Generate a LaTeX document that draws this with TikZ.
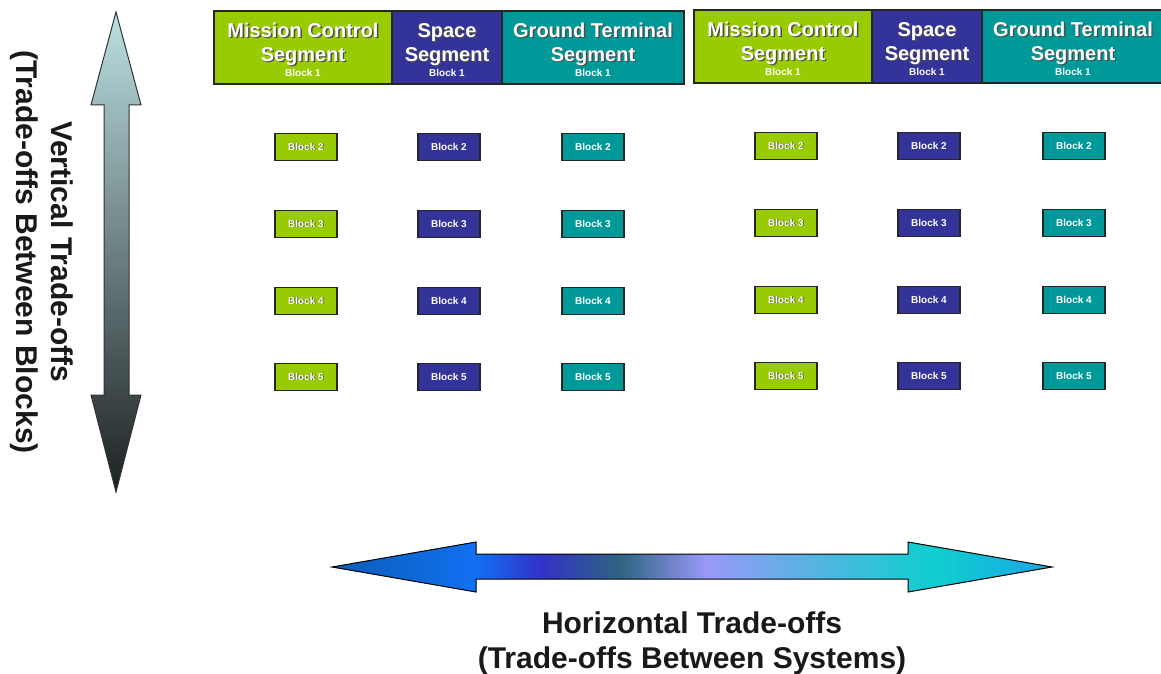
\documentclass[tikz,border=0pt]{standalone}
\usepackage{fontspec}
\setmainfont{Liberation Sans}
\usetikzlibrary{positioning}
\definecolor{mcgreen}{HTML}{99CC00}
\definecolor{sspurple}{HTML}{333399}
\definecolor{gtteal}{HTML}{009999}
\definecolor{vtop}{HTML}{BCE0E3}
\definecolor{vmid}{HTML}{6F8587}
\definecolor{vbot}{HTML}{1C2021}
\definecolor{hA}{HTML}{0A5DB5}
\definecolor{hB}{HTML}{1270F2}
\definecolor{hC}{HTML}{3232C8}
\definecolor{hD}{HTML}{2F6482}
\definecolor{hE}{HTML}{9999F8}
\definecolor{hF}{HTML}{5AB2E2}
\definecolor{hG}{HTML}{0FCFCF}
\definecolor{hH}{HTML}{1AA6E6}
\pgfdeclarehorizontalshading{hbar}{100bp}{color(0bp)=(hA); color(25bp)=(hA); color(35bp)=(hB);
  color(39.5bp)=(hC); color(45bp)=(hD); color(51bp)=(hE); color(58bp)=(hF); color(66.75bp)=(hG);
  color(75bp)=(hH); color(100bp)=(hH)}
\newcommand\shadoff{0.7pt}
\newcommand\shad[1]{\makebox[0pt][l]{\hspace{\shadoff}\raisebox{-\shadoff}{\color{black!70}#1}}#1}
\newcommand\blkone{{\fontsize{5}{6}\selectfont Block 1}}
\tikzset{
  seg/.style={draw=black!85, line width=0.6pt, inner sep=0pt, outer sep=0pt, minimum height=36.5pt,
    align=center, text=white, font=\fontsize{10}{12}\selectfont\bfseries},
  blk/.style={draw=black!85, line width=0.6pt, inner sep=0pt, minimum width=31pt,
    minimum height=13.5pt, text=white, font=\fontsize{5}{6}\selectfont\bfseries},
  bigtext/.style={align=center, text=black!90, font=\fontsize{15}{17.5}\selectfont\bfseries}
}
\begin{document}
\begin{tikzpicture}[x=0.5pt,y=-0.5pt]
\path[use as bounding box, fill=white] (0,0) rectangle (1161,674);
\clip (0,0) rectangle (1161,674);
% segments, block 1
\foreach \g/\x/\y in {A/214/47.5, B/694/46.5}{
  \node[seg, fill=mcgreen, minimum width=89pt, anchor=west] (mcs\g) at (\x,\y)
    {\rule{0pt}{9.3pt}\shad{Mission Control}\\\shad{Segment}\\[-4.5pt]\blkone};
  \node[seg, fill=sspurple, minimum width=55pt, right=0pt of mcs\g] (sss\g)
    {\rule{0pt}{9.3pt}\shad{Space}\\\shad{Segment}\\[-4.5pt]\blkone};
  \node[seg, fill=gtteal, minimum width=91pt, right=0pt of sss\g] (gts\g)
    {\rule{0pt}{9.3pt}\shad{Ground Terminal}\\\shad{Segment}\\[-4.5pt]\blkone};
}
% blocks 2 to 5
\renewcommand\shadoff{0.35pt}
\foreach \g/\dy/\xa/\xb/\xc in {A/0/306/449/593, B/-1/786/929/1074}
  \foreach \r/\y in {2/147, 3/224, 4/301, 5/377}{
    \node[blk, fill=mcgreen] (mc\g\r) at (\xa,\y+\dy) {\shad{Block \r}};
    \node[blk, fill=sspurple] (ss\g\r) at (\xb,\y+\dy) {Block \r};
    \node[blk, fill=gtteal] (gt\g\r) at (\xc,\y+\dy) {Block \r};
  }
% vertical arrow
\draw[black!80, line width=0.5pt, top color=vtop, middle color=vmid, bottom color=vbot]
  (116,12) -- (141,105) -- (129,105) -- (129,395) -- (141,395) -- (116,492)
  -- (91,395) -- (104,395) -- (104,105) -- (91,105) -- cycle;
\node[bigtext, rotate=-90] (vlabel) at (42,252) {Vertical Trade-offs\\(Trade-offs Between Blocks)};
% horizontal arrow
\draw[black, line width=0.5pt, shading=hbar]
  (332,567) -- (476,542) -- (476,554) -- (908,554) -- (908,542) -- (1052,567)
  -- (908,592) -- (908,579) -- (476,579) -- (476,592) -- cycle;
\node[bigtext] (hlabel) at (692,643) {Horizontal Trade-offs\\(Trade-offs Between Systems)};
\end{tikzpicture}
\end{document}
